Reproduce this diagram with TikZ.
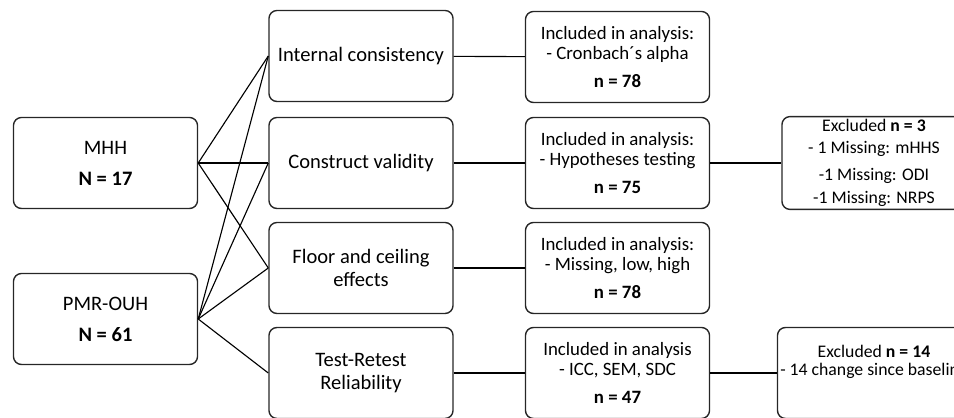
\documentclass[tikz,border=0pt]{standalone}
\usepackage{fontspec}
\setmainfont{Carlito}
\usetikzlibrary{positioning}

\begin{document}
\begin{tikzpicture}[x=0.025cm, y=-0.025cm,
    box/.style={draw=black!85, line width=1pt, rounded corners=0.2cm, minimum width=4.6cm, minimum height=2.275cm, align=center, inner sep=2pt},
    bigtext/.style={font=\fontsize{14.6}{16}\selectfont},
    midtext/.style={font=\fontsize{13.4}{14.2}\selectfont},
    smalltext/.style={font=\fontsize{12.6}{14.2}\selectfont},
    link/.style={draw=black, line width=0.8pt}]
  \useasboundingbox (0,0) rectangle (954,418);
  \clip (0,0) rectangle (954,418);

  \node[box, bigtext] (mhh) at (105.5,163) {MHH\\[6pt]\textbf{N = 17}};
  \node[box, bigtext] (pmr) at (105.5,319) {PMR-OUH\\[6pt]\textbf{N = 61}};

  \node[box, bigtext] (ic) at (361,56) {Internal consistency};
  \node[box, bigtext] (cv) at (361,163) {Construct validity};
  \node[box, bigtext] (fc) at (361,268) {Floor and ceiling\\effects};
  \node[box, bigtext] (tr) at (361,373) {Test-Retest\\Reliability};

  \node[box, midtext] (inc1) at (617.5,57) {Included in analysis:\\- Cronbach´s alpha\\[6pt]\textbf{n = 78}};
  \node[box, midtext] (inc2) at (617.5,163) {Included in analysis:\\- Hypotheses testing\\[6pt]\textbf{n = 75}};
  \node[box, midtext] (inc3) at (617.5,268) {Included in analysis:\\- Missing, low, high\\[6pt]\textbf{n = 78}};
  \node[box, midtext] (inc4) at (617.5,373) {Included in analysis\\- ICC, SEM, SDC\\[6pt]\textbf{n = 47}};

  \node[box, smalltext] (exc1) at (874,163) {Excluded \textbf{n = 3}\\[1.5pt]- 1 Missing: mHHS\\[5pt]-1 Missing: ODI\\[2pt]-1 Missing: NRPS};
  \node[box, smalltext] (exc2) at (874,373) {Excluded \textbf{n = 14}\\[-1.5pt]- 14 change since baseline\\[4pt]\mbox{}};

  % sites to measurement properties
  \draw[link] (mhh.east) -- (ic.west);
  \draw[link] (mhh.east) -- (cv.west);
  \draw[link] (mhh.east) -- (fc.west);
  \draw[link] (pmr.east) -- (ic.west);
  \draw[link] (pmr.east) -- (cv.west);
  \draw[link] (pmr.east) -- (fc.west);
  \draw[link] (pmr.east) -- (tr.west);

  \draw[link] (ic) -- (inc1);
  \draw[link] (cv) -- (inc2);
  \draw[link] (fc) -- (inc3);
  \draw[link] (tr) -- (inc4);
  \draw[link] (inc2) -- (exc1);
  \draw[link] (inc4) -- (exc2);
\end{tikzpicture}
\end{document}
